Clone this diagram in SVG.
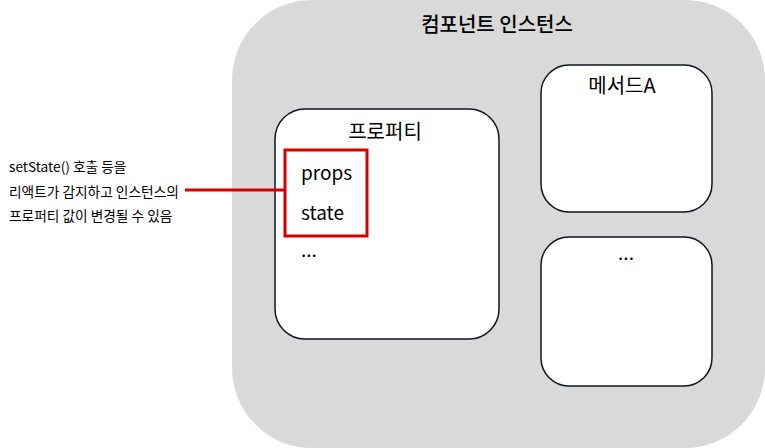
<svg xmlns="http://www.w3.org/2000/svg" width="765" height="448" viewBox="0 0 765 448">
<style>
text{font-family:"Noto Sans CJK KR","Noto Sans",sans-serif;fill:#000}
.box{fill:#fff;stroke:#0d1620;stroke-width:1.5}
.t17{font-size:19px}
.tk{font-size:20px}
.t13{font-size:13.7px}
</style>
<rect width="765" height="448" fill="#fff"/>
<g id="instance">
<rect x="232" y="0" width="533" height="448" rx="80" fill="#d9d9d9"/>
<text x="497" y="32" text-anchor="middle" font-size="20" font-weight="500">컴포넌트 인스턴스</text>
</g>
<g id="properties">
<rect class="box" x="275" y="109" width="224" height="230" rx="30"/>
<text class="tk" x="385" y="139" text-anchor="middle">프로퍼티</text>
<text class="t17" x="301" y="180">props</text>
<text class="t17" x="301" y="220">state</text>
<text class="t17" x="301" y="257">...</text>
</g>
<g id="methodA">
<rect class="box" x="541" y="65" width="171" height="147" rx="28"/>
<text class="tk" x="622" y="93" text-anchor="middle">메서드A</text>
</g>
<g id="other">
<rect class="box" x="541" y="237" width="171" height="149" rx="28"/>
<text class="t17" x="626" y="260" text-anchor="middle">...</text>
</g>
<g id="highlight">
<rect x="285" y="150" width="82" height="86" fill="none" stroke="#d40000" stroke-width="3"/>
</g>
<g id="note">
<text class="t13" x="9" y="172">setState() 호출 등을</text>
<text class="t13" x="9" y="197">리액트가 감지하고 인스턴스의</text>
<text class="t13" x="9" y="221">프로퍼티 값이 변경될 수 있음</text>
</g>
<g id="connectors">
<line x1="185" y1="190" x2="285" y2="190" stroke="#d40000" stroke-width="3"/>
</g>
</svg>
